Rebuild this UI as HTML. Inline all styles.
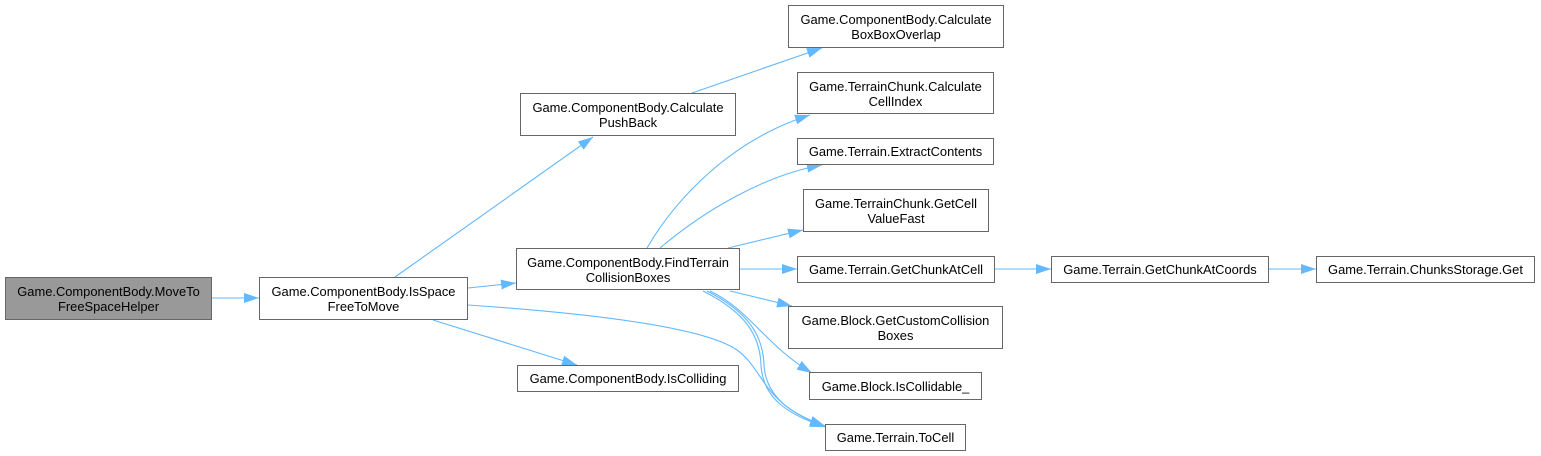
<!DOCTYPE html>
<html>
<head>
<meta charset="utf-8">
<style>
  html, body { margin: 0; padding: 0; background: #ffffff; }
  body { width: 1541px; height: 456px; overflow: hidden; }
  svg { display: block; }
  text { font-family: "Liberation Sans", Arial, sans-serif; font-size: 12.9px; fill: #000; }
</style>
</head>
<body>
<svg width="1541" height="456" viewBox="0 0 1541 456" xmlns="http://www.w3.org/2000/svg">
  <defs>
    <marker id="ah" markerUnits="userSpaceOnUse" markerWidth="16" markerHeight="11" refX="15" refY="5" orient="auto">
      <path d="M0,0 L15,5 L0,10 z" fill="#63b8ff" stroke="none"/>
    </marker>
  </defs>

  <!-- edges -->
  <g fill="none" stroke="#63b8ff" stroke-width="1.1">
    <path d="M212,298 L259,298" marker-end="url(#ah)"/>
    <path d="M395,277 L593,137" marker-end="url(#ah)"/>
    <path d="M468,288 L516,283" marker-end="url(#ah)"/>
    <path d="M433,320 L577,365" marker-end="url(#ah)"/>
    <path d="M468,305 C600,314 705,328 737,350 C765,370 762,405 825,426" marker-end="url(#ah)"/>
    <path d="M692,93 L822,48" marker-end="url(#ah)"/>
    <path d="M647,248 C675,200 730,140 810,115" marker-end="url(#ah)"/>
    <path d="M660,248 C705,210 765,175 822,165" marker-end="url(#ah)"/>
    <path d="M728,248 L803,230" marker-end="url(#ah)"/>
    <path d="M740,269 L797,269" marker-end="url(#ah)"/>
    <path d="M995,269 L1051,269" marker-end="url(#ah)"/>
    <path d="M1269,269 L1316,269" marker-end="url(#ah)"/>
    <path d="M730,291 L792,306" marker-end="url(#ah)"/>
    <path d="M710,291 C750,310 765,345 812,373" marker-end="url(#ah)"/>
    <path d="M703,291 C745,312 760,335 761,365 C763,400 790,415 825,427" marker-end="url(#ah)"/>
    <path d="M707,291 C748,312 763,335 764,365 C766,398 792,414 825,426" marker-end="url(#ah)"/>
  </g>

  <!-- nodes -->
  <g stroke="#666666" stroke-width="1">
    <rect x="5.5" y="277.5" width="206" height="42" fill="#999999"/>
    <rect x="259.5" y="277.5" width="208" height="42" fill="#ffffff"/>
    <rect x="520.5" y="93.5" width="215" height="42" fill="#ffffff"/>
    <rect x="516.5" y="248.5" width="223" height="41" fill="#ffffff"/>
    <rect x="517.5" y="365.5" width="221" height="26" fill="#ffffff"/>
    <rect x="788.5" y="5.5" width="215" height="42" fill="#ffffff"/>
    <rect x="797.5" y="72.5" width="196" height="41" fill="#ffffff"/>
    <rect x="797.5" y="138.5" width="196" height="26" fill="#ffffff"/>
    <rect x="803.5" y="189.5" width="185" height="42" fill="#ffffff"/>
    <rect x="797.5" y="256.5" width="197" height="26" fill="#ffffff"/>
    <rect x="788.5" y="306.5" width="214" height="42" fill="#ffffff"/>
    <rect x="809.5" y="372.5" width="172" height="27" fill="#ffffff"/>
    <rect x="825.5" y="424.5" width="140" height="26" fill="#ffffff"/>
    <rect x="1051.5" y="256.5" width="217" height="26" fill="#ffffff"/>
    <rect x="1316.5" y="256.5" width="218" height="26" fill="#ffffff"/>
  </g>

  <!-- labels -->
  <g text-anchor="middle">
    <text x="108.5" y="296">Game.ComponentBody.MoveTo</text>
    <text x="108.5" y="311">FreeSpaceHelper</text>

    <text x="363.5" y="296">Game.ComponentBody.IsSpace</text>
    <text x="363.5" y="311">FreeToMove</text>

    <text x="628" y="112">Game.ComponentBody.Calculate</text>
    <text x="628" y="127">PushBack</text>

    <text x="628" y="267">Game.ComponentBody.FindTerrain</text>
    <text x="628" y="282">CollisionBoxes</text>

    <text x="628" y="383">Game.ComponentBody.IsColliding</text>

    <text x="896" y="24">Game.ComponentBody.Calculate</text>
    <text x="896" y="39">BoxBoxOverlap</text>

    <text x="895.5" y="91">Game.TerrainChunk.Calculate</text>
    <text x="895.5" y="106">CellIndex</text>

    <text x="895.5" y="156">Game.Terrain.ExtractContents</text>

    <text x="896" y="208">Game.TerrainChunk.GetCell</text>
    <text x="896" y="223">ValueFast</text>

    <text x="896" y="274">Game.Terrain.GetChunkAtCell</text>

    <text x="895.5" y="325">Game.Block.GetCustomCollision</text>
    <text x="895.5" y="340">Boxes</text>

    <text x="895.5" y="391">Game.Block.IsCollidable_</text>

    <text x="895.5" y="442">Game.Terrain.ToCell</text>

    <text x="1160" y="274">Game.Terrain.GetChunkAtCoords</text>

    <text x="1425.5" y="274">Game.Terrain.ChunksStorage.Get</text>
  </g>
</svg>
</body>
</html>
